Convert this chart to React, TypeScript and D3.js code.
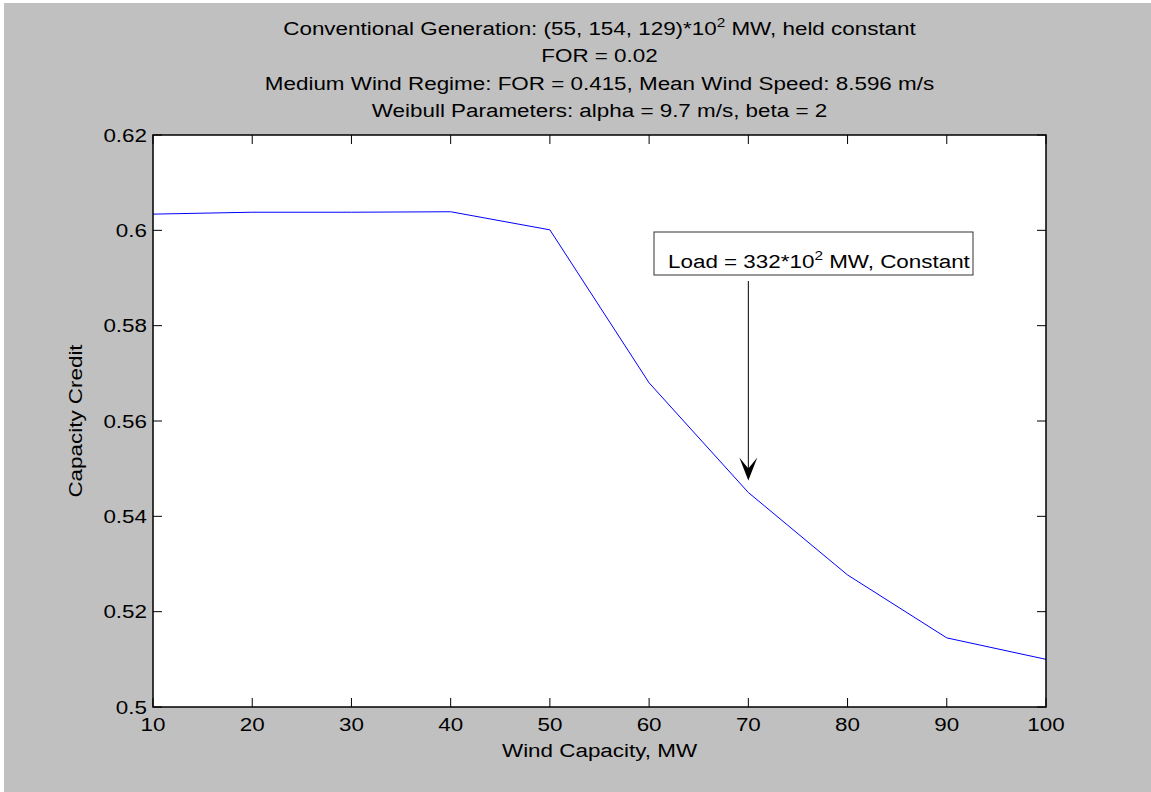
import React from "react";
import * as d3 from "d3";

const windCapacity = [10, 20, 30, 40, 50, 60, 70, 80, 90, 100];
const capacityCredit = [0.6034, 0.6038, 0.6038, 0.6039, 0.6001, 0.568, 0.545, 0.5277, 0.5145, 0.51];
const xTicks = [10, 20, 30, 40, 50, 60, 70, 80, 90, 100];
const yTicks = [0.5, 0.52, 0.54, 0.56, 0.58, 0.6, 0.62];
const yTickLabels = ["0.5", "0.52", "0.54", "0.56", "0.58", "0.6", "0.62"];
const titleLines = [
  ["Conventional Generation: (55, 154, 129)*10", "2", " MW, held constant"],
  ["FOR = 0.02"],
  ["Medium Wind Regime: FOR = 0.415, Mean Wind Speed: 8.596 m/s"],
  ["Weibull Parameters: alpha = 9.7 m/s, beta = 2"],
];
const annotation = ["Load = 332*10", "2", " MW, Constant"];
const annotationTarget = { x: 70, y: 0.5475 };

const W = 1151;
const H = 792;
const L = 153, R = 1046, T = 135, B = 707;
const FONT = "'Liberation Sans', Arial, Helvetica, sans-serif";
const FS = 19;
const SX = 1.18;

function renderParts(parts: string[]) {
  return parts.map((p, i) =>
    i === 1 ? (
      <tspan key={i} fontSize={13} dy={-8}>
        {p}
      </tspan>
    ) : i === 2 ? (
      <tspan key={i} dy={8}>
        {p}
      </tspan>
    ) : (
      <tspan key={i}>{p}</tspan>
    )
  );
}

function SText(props: {
  x: number;
  y: number;
  anchor?: string;
  rotate?: number;
  children: React.ReactNode;
}) {
  const { x, y, anchor = "start", rotate = 0, children } = props;
  return (
    <g transform={`translate(${x},${y}) rotate(${rotate}) scale(${SX},1)`}>
      <text x={0} y={0} fontSize={FS} textAnchor={anchor as any} fill="#000">
        {children}
      </text>
    </g>
  );
}

export default function App() {
  const x = d3.scaleLinear().domain([10, 100]).range([L, R]);
  const y = d3.scaleLinear().domain([0.5, 0.62]).range([B, T]);
  const line = d3
    .line<number>()
    .x((_, i) => x(windCapacity[i]))
    .y((d) => y(d));
  const tickLen = 9;
  const ax = x(annotationTarget.x);
  const tipY = y(annotationTarget.y);
  const boxX = 654, boxY = 232, boxW = 319, boxH = 43;

  return (
    <svg
      width={W}
      height={H}
      style={{ position: "absolute", left: 0, top: 0, display: "block" }}
      fontFamily={FONT}
    >
      <rect x={0} y={0} width={W} height={H} fill="#ffffff" />
      <rect x={4} y={3} width={W - 4} height={H - 3} fill="#c0c0c0" />
      <rect x={L} y={T} width={R - L} height={B - T} fill="#ffffff" />

      {xTicks.map((t) => (
        <g key={"xt" + t}>
          <line x1={x(t)} x2={x(t)} y1={B} y2={B - tickLen} stroke="#000" strokeWidth={1} />
          <line x1={x(t)} x2={x(t)} y1={T} y2={T + tickLen} stroke="#000" strokeWidth={1} />
          <SText x={x(t)} y={731} anchor="middle">
            {t}
          </SText>
        </g>
      ))}
      {yTicks.map((t, i) => (
        <g key={"yt" + t}>
          <line x1={L} x2={L + tickLen} y1={y(t)} y2={y(t)} stroke="#000" strokeWidth={1} />
          <line x1={R} x2={R - tickLen} y1={y(t)} y2={y(t)} stroke="#000" strokeWidth={1} />
          <SText x={147} y={y(t) + 6.5} anchor="end">
            {yTickLabels[i]}
          </SText>
        </g>
      ))}

      <path d={line(capacityCredit) || ""} fill="none" stroke="#0000ff" strokeWidth={1} />

      <rect x={L} y={T} width={R - L} height={B - T} fill="none" stroke="#000" strokeWidth={1.5} />

      <rect x={boxX} y={boxY} width={boxW} height={boxH} fill="#ffffff" stroke="#333" strokeWidth={1} />
      <SText x={boxX + 14} y={boxY + 36}>
        {renderParts(annotation)}
      </SText>
      <line x1={ax} x2={ax} y1={281} y2={tipY - 6} stroke="#000" strokeWidth={1} />
      <path
        d={`M${ax},${tipY} L${ax - 9},${tipY - 23} L${ax},${tipY - 12} L${ax + 9},${tipY - 23} Z`}
        fill="#000"
      />

      {titleLines.map((parts, i) => (
        <SText key={"t" + i} x={(L + R) / 2} y={35 + i * 27.3} anchor="middle">
          {renderParts(parts)}
        </SText>
      ))}

      <SText x={(L + R) / 2} y={757} anchor="middle">
        Wind Capacity, MW
      </SText>
      <SText x={82} y={(T + B) / 2} anchor="middle" rotate={-90}>
        Capacity Credit
      </SText>
    </svg>
  );
}
